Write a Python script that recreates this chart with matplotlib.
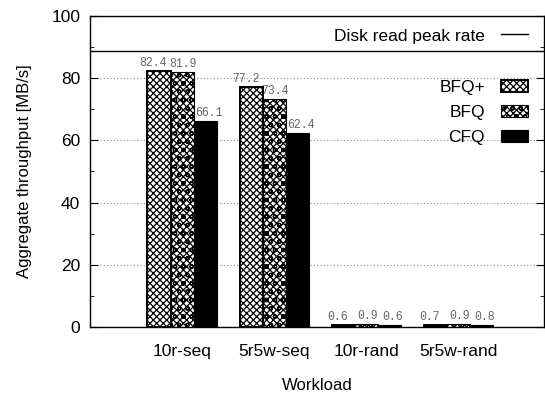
import numpy as np
import matplotlib
matplotlib.use('Agg')
import matplotlib.pyplot as plt

plt.rcParams['font.family'] = ['Liberation Sans', 'DejaVu Sans']
plt.rcParams['hatch.linewidth'] = 0.9

workloads = ['10r-seq', '5r5w-seq', '10r-rand', '5r5w-rand']
schedulers = ['BFQ+', 'BFQ', 'CFQ']
bfq_plus = [82.4, 77.2, 0.6, 0.7]
bfq = [81.9, 73.4, 0.9, 0.9]
cfq = [66.1, 62.4, 0.6, 0.8]
peak_rate = 88.7


def main():
    fig = plt.figure(figsize=(5.45, 3.96), dpi=100)
    ax = fig.add_axes([0.165, 0.174, 0.833, 0.786])

    x = np.arange(1, len(workloads) + 1)
    width = 0.25
    series = [bfq_plus, bfq, cfq]
    styles = [
        dict(color='white', edgecolor='black', hatch='xxxxx', linewidth=1.4),
        dict(color='white', edgecolor='black', hatch='xxxxxoo', linewidth=0.8),
        dict(color='black', edgecolor='black', linewidth=0.8),
    ]
    # gnuplot-ish label nudges so neighbouring values don't collide
    label_shift = [-0.06, 0.01, 0.04]
    bar_handles = []
    for i, (vals, name, st) in enumerate(zip(series, schedulers, styles)):
        pos = x + (i - 1) * width
        bars = ax.bar(pos, vals, width, label=name, zorder=2, **st)
        bar_handles.append(bars)
        for px, v in zip(pos, vals):
            ax.text(px + label_shift[i], v + 0.6, f'{v:.1f}', ha='center',
                    va='bottom', family='Liberation Mono', fontsize=8.3,
                    color='#666666', zorder=3)

    line = ax.axhline(peak_rate, color='black', linewidth=1.0, zorder=2,
                      label='Disk read peak rate')

    ax.set_xlim(0, 4.93)
    ax.set_ylim(0, 100)
    ax.set_xticks(x)
    ax.set_xticklabels(workloads, fontsize=12.5)
    ax.set_yticks(range(0, 101, 20))
    ax.set_yticks(range(10, 100, 20), minor=True)
    ax.tick_params(axis='y', which='both', direction='in', right=True,
                   labelsize=12.5, pad=7)
    ax.tick_params(axis='y', which='major', length=6)
    ax.tick_params(axis='y', which='minor', length=3)
    ax.tick_params(axis='x', length=0, pad=12)
    ax.grid(axis='y', linestyle=(0, (1, 2)), color='#888888', linewidth=0.8,
            zorder=0)
    ax.set_axisbelow(True)
    for sp in ax.spines.values():
        sp.set_linewidth(1.0)

    ax.set_xlabel('Workload', fontsize=12, labelpad=14)
    ax.set_ylabel('Aggregate throughput [MB/s]', fontsize=12, labelpad=14)

    # one legend per key entry so the labels line up on the right, like gnuplot
    leg = ax.legend(handles=[line], loc='upper right', frameon=False,
                    markerfirst=False, fontsize=12.5, handlelength=1.6,
                    handletextpad=0.9, bbox_to_anchor=(1.0, 1.01))
    for i, (h, name) in enumerate(zip(bar_handles, schedulers)):
        ax.add_artist(leg)
        leg = ax.legend(handles=[h], labels=[name], loc='upper right',
                        bbox_to_anchor=(1.0, 0.845 - i * 0.08), frameon=False,
                        markerfirst=False, fontsize=12.5, handlelength=1.6,
                        handleheight=0.7, handletextpad=0.9)

    fig.savefig('out.png', dpi=100)


if __name__ == '__main__':
    main()
